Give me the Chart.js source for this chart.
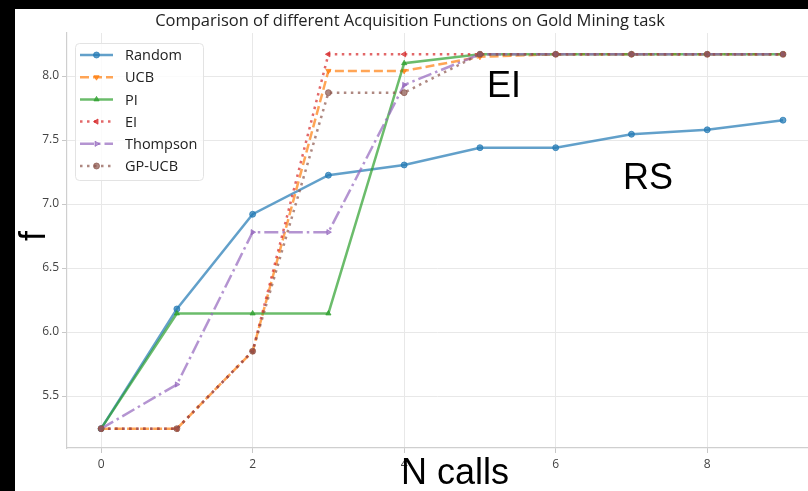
<!DOCTYPE html>
<html>
<head>
<meta charset="utf-8">
<script src="https://cdn.jsdelivr.net/npm/chart.js@4.4.1/dist/chart.umd.min.js"></script>
<style>
  html, body { margin: 0; padding: 0; background: #000; width: 808px; height: 491px; overflow: hidden; }
  #papier { position: absolute; left: 15px; top: 9px; right: 0; bottom: 0; background: #fff; }
  #graphe { position: absolute; left: 0; top: 0; }
</style>
</head>
<body>
<div id="papier"></div>
<canvas id="graphe" width="808" height="491"></canvas>
<script>
// nombre d'appels (axe x)
const calls = [0, 1, 2, 3, 4, 5, 6, 7, 8, 9];

// meilleure valeur trouvée pour chaque fonction d'acquisition
const randomVals   = [5.245, 6.18, 6.92, 7.225, 7.305, 7.44, 7.44, 7.545, 7.58, 7.655];
const ucbVals      = [5.245, 5.245, 5.85, 8.04, 8.04, 8.15, 8.17, 8.17, 8.17, 8.17];
const piVals       = [5.245, 6.145, 6.145, 6.145, 8.10, 8.17, 8.17, 8.17, 8.17, 8.17];
const eiVals       = [5.245, 5.245, 5.85, 8.17, 8.17, 8.17, 8.17, 8.17, 8.17, 8.17];
const thompsonVals = [5.245, 5.59, 6.78, 6.78, 7.93, 8.17, 8.17, 8.17, 8.17, 8.17];
const gpucbVals    = [5.245, 5.245, 5.85, 7.87, 7.87, 8.17, 8.17, 8.17, 8.17, 8.17];

const seriesNames = ["Random", "UCB", "PI", "EI", "Thompson", "GP-UCB"];

// graduations
const xTicks = [0, 2, 4, 6, 8];
const yTicks = [5.5, 6.0, 6.5, 7.0, 7.5, 8.0];
const yTickLabels = ["5.5", "6.0", "6.5", "7.0", "7.5", "8.0"];

const titre = "Comparison of different Acquisition Functions on Gold Mining task";

// styles des courbes (couleurs tab10, transparence 0.7)
const styles = [
    { color: "rgba(31,119,180,0.7)",  dash: [],              point: "circle",   rot: 0 },
    { color: "rgba(255,127,14,0.7)",  dash: [9, 4],          point: "triangle", rot: 180 },
    { color: "rgba(44,160,44,0.7)",   dash: [],              point: "triangle", rot: 0 },
    { color: "rgba(214,39,40,0.7)",   dash: [2.5, 4.5],      point: "triangle", rot: 270 },
    { color: "rgba(148,103,189,0.7)", dash: [14, 4, 2.5, 4], point: "triangle", rot: 90 },
    { color: "rgba(140,86,75,0.7)",   dash: [2.5, 4.5],      point: "circle",   rot: 0 }
];

const allVals = [randomVals, ucbVals, piVals, eiVals, thompsonVals, gpucbVals];

const datasets = allVals.map((vals, i) => ({
    label: seriesNames[i],
    data: vals.map((v, k) => ({ x: calls[k], y: v })),
    borderColor: styles[i].color,
    backgroundColor: styles[i].color,
    pointBackgroundColor: styles[i].color,
    pointBorderColor: styles[i].color,
    borderWidth: 2.5,
    borderDash: styles[i].dash,
    borderCapStyle: "butt",
    pointStyle: styles[i].point,
    rotation: styles[i].rot,
    pointRadius: 3,
    pointBorderWidth: 1,
    tension: 0,
    fill: false,
    order: allVals.length - i   // les dernières courbes passent au-dessus
}));

// textes, légende et annotations dessinés par-dessus
const decor = {
    id: "decor",
    afterDraw(chart) {
        const ctx = chart.ctx;
        ctx.save();

        // titre
        ctx.fillStyle = "#222";
        ctx.font = "16.5px 'Open Sans'";
        ctx.textAlign = "center";
        ctx.textBaseline = "middle";
        ctx.fillText(titre, 410, 21);

        // légende
        ctx.beginPath();
        ctx.roundRect(75.5, 43.5, 128, 137, 4);
        ctx.fillStyle = "rgba(255,255,255,0.8)";
        ctx.fill();
        ctx.strokeStyle = "#e3e3e3";
        ctx.lineWidth = 1;
        ctx.stroke();

        chart.data.datasets.forEach((ds, i) => {
            const y = 55 + i * 22.2;
            ctx.save();
            ctx.strokeStyle = ds.borderColor;
            ctx.lineWidth = ds.borderWidth;
            ctx.setLineDash(ds.borderDash);
            ctx.lineCap = "butt";
            ctx.beginPath();
            ctx.moveTo(80, y);
            ctx.lineTo(113, y);
            ctx.stroke();
            ctx.setLineDash([]);
            ctx.fillStyle = ds.pointBackgroundColor;
            ctx.strokeStyle = ds.pointBorderColor;
            ctx.lineWidth = 1;
            Chart.helpers.drawPoint(ctx, { pointStyle: ds.pointStyle, rotation: ds.rotation, radius: 3, borderWidth: 1 }, 96.5, y);
            ctx.restore();

            ctx.fillStyle = "#222";
            ctx.font = "14.5px 'Open Sans'";
            ctx.textAlign = "left";
            ctx.textBaseline = "middle";
            ctx.fillText(ds.label, 125, y + 1);
        });

        // étiquettes des axes et annotations
        ctx.fillStyle = "#000";
        ctx.font = "36px 'Liberation Sans'";
        ctx.textBaseline = "alphabetic";
        ctx.textAlign = "center";
        ctx.fillText("N calls", 455, 484);
        ctx.textAlign = "left";
        ctx.fillText("EI", 487, 97);
        ctx.fillText("RS", 623, 189);

        ctx.translate(45, 236);
        ctx.rotate(-Math.PI / 2);
        ctx.textAlign = "center";
        ctx.fillText("f", 0, 0);

        ctx.restore();
    }
};

const ctx = document.getElementById("graphe").getContext("2d");

new Chart(ctx, {
    type: "line",
    data: { datasets: datasets },
    options: {
        responsive: false,
        animation: false,
        devicePixelRatio: 1,
        layout: { autoPadding: false, padding: { top: 33, left: 0, right: 0, bottom: 0 } },
        plugins: {
            legend: { display: false },
            title: { display: false },
            tooltip: { enabled: false }
        },
        scales: {
            x: {
                type: "linear",
                min: -0.45,
                max: 9.33,
                afterBuildTicks: s => { s.ticks = xTicks.map(v => ({ value: v })); },
                afterFit: s => { s.height = 43; },
                grid: { color: "#e8e8e8", tickColor: "#c8c8c8", tickLength: 5 },
                border: { color: "#cfcfcf", width: 1.2 },
                ticks: {
                    color: "#444",
                    padding: 4,
                    font: { family: "'Open Sans'", size: 12 },
                    callback: v => String(v)
                }
            },
            y: {
                type: "linear",
                min: 5.094,
                max: 8.336,
                afterBuildTicks: s => { s.ticks = yTicks.map(v => ({ value: v })); },
                afterFit: s => { s.width = 67; },
                grid: { color: "#e8e8e8", tickColor: "#c8c8c8", tickLength: 5 },
                border: { color: "#cfcfcf", width: 1.2 },
                ticks: {
                    color: "#444",
                    padding: 3,
                    font: { family: "'Open Sans'", size: 12 },
                    callback: (v, i) => yTickLabels[yTicks.indexOf(v)] ?? ""
                }
            }
        }
    },
    plugins: [decor]
});
</script>
</body>
</html>
